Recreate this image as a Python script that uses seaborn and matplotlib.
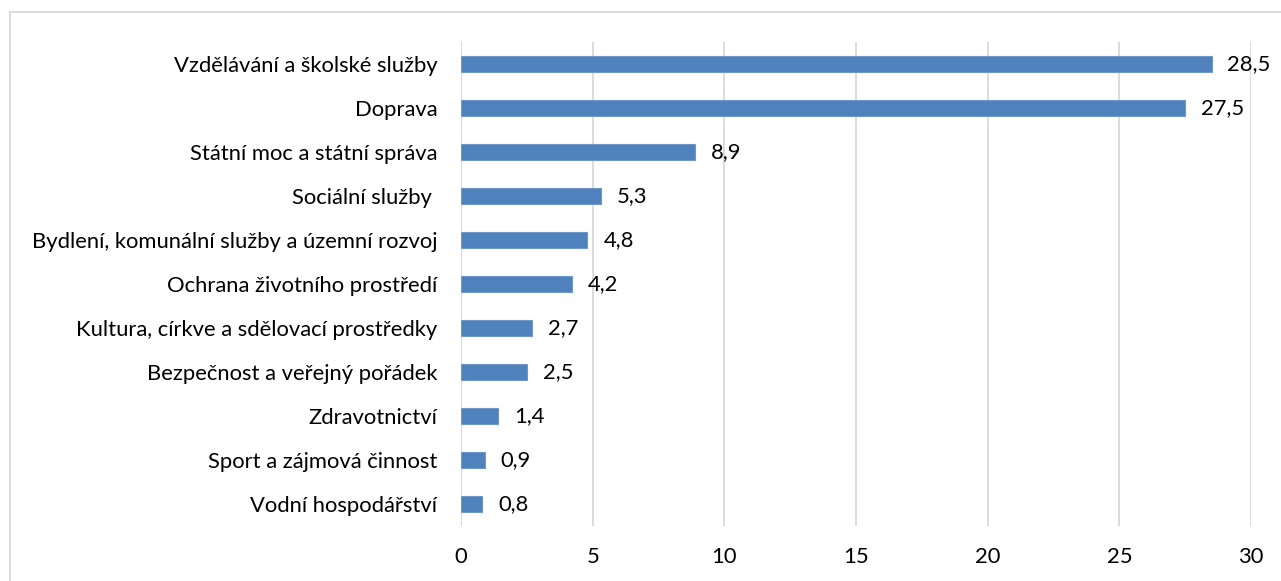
import matplotlib
matplotlib.use("Agg")
import matplotlib.pyplot as plt
import seaborn as sns
import pandas as pd
from matplotlib.patches import Rectangle

categories = [
    "Vzdělávání a školské služby",
    "Doprava",
    "Státní moc a státní správa",
    "Sociální služby ",
    "Bydlení, komunální služby a územní rozvoj",
    "Ochrana životního prostředí",
    "Kultura, církve a sdělovací prostředky",
    "Bezpečnost a veřejný pořádek",
    "Zdravotnictví",
    "Sport a zájmová činnost",
    "Vodní hospodářství",
]
values = [28.5, 27.5, 8.9, 5.3, 4.8, 4.2, 2.7, 2.5, 1.4, 0.9, 0.8]
value_labels = ["28,5", "27,5", "8,9", "5,3", "4,8", "4,2", "2,7", "2,5", "1,4", "0,9", "0,8"]
x_ticks = [0, 5, 10, 15, 20, 25, 30]

sns.set_theme(style="white")
plt.rcParams["font.family"] = ["Lato", "DejaVu Sans"]

df = pd.DataFrame({"cat": categories, "val": values})

FS = 15.8

fig = plt.figure(figsize=(12.81, 5.81), dpi=100)
ax = fig.add_axes([461 / 1281, 1 - 526 / 581, (1251 - 461) / 1281, (526 - 42) / 581])

sns.barplot(data=df, x="val", y="cat", orient="h", color="#4F81BD",
            saturation=1, width=0.36, edgecolor="#6F98C8", linewidth=0.8, ax=ax)

ax.set_xlim(0, 30)
ax.set_ylim(len(categories) - 0.5, -0.5)
ax.set_xticks(x_ticks)
ax.set_xticklabels([str(t) for t in x_ticks])
ax.xaxis.grid(True, color="#D9D9D9", linewidth=1.3)
ax.set_axisbelow(True)
for s in ax.spines.values():
    s.set_visible(False)
ax.axvline(0, color="#D9D9D9", linewidth=1.3, zorder=0.5)
ax.set_xlabel("")
ax.set_ylabel("")
ax.tick_params(axis="x", length=0, pad=15, labelsize=FS, colors="black")
ax.tick_params(axis="y", length=0, pad=17, labelsize=FS, colors="black")

for i, (v, lab) in enumerate(zip(values, value_labels)):
    ax.annotate(lab, (v, i), xytext=(16, 0), textcoords="offset pixels",
                ha="left", va="center", fontsize=FS, color="black")

fig.patches.append(Rectangle((10 / 1281, -0.05), 1.0, 1.05 - 12 / 581,
                             transform=fig.transFigure, fill=False,
                             edgecolor="#D9D9D9", linewidth=1.3, clip_on=False))

fig.savefig("out.png", dpi=100, facecolor="white")
